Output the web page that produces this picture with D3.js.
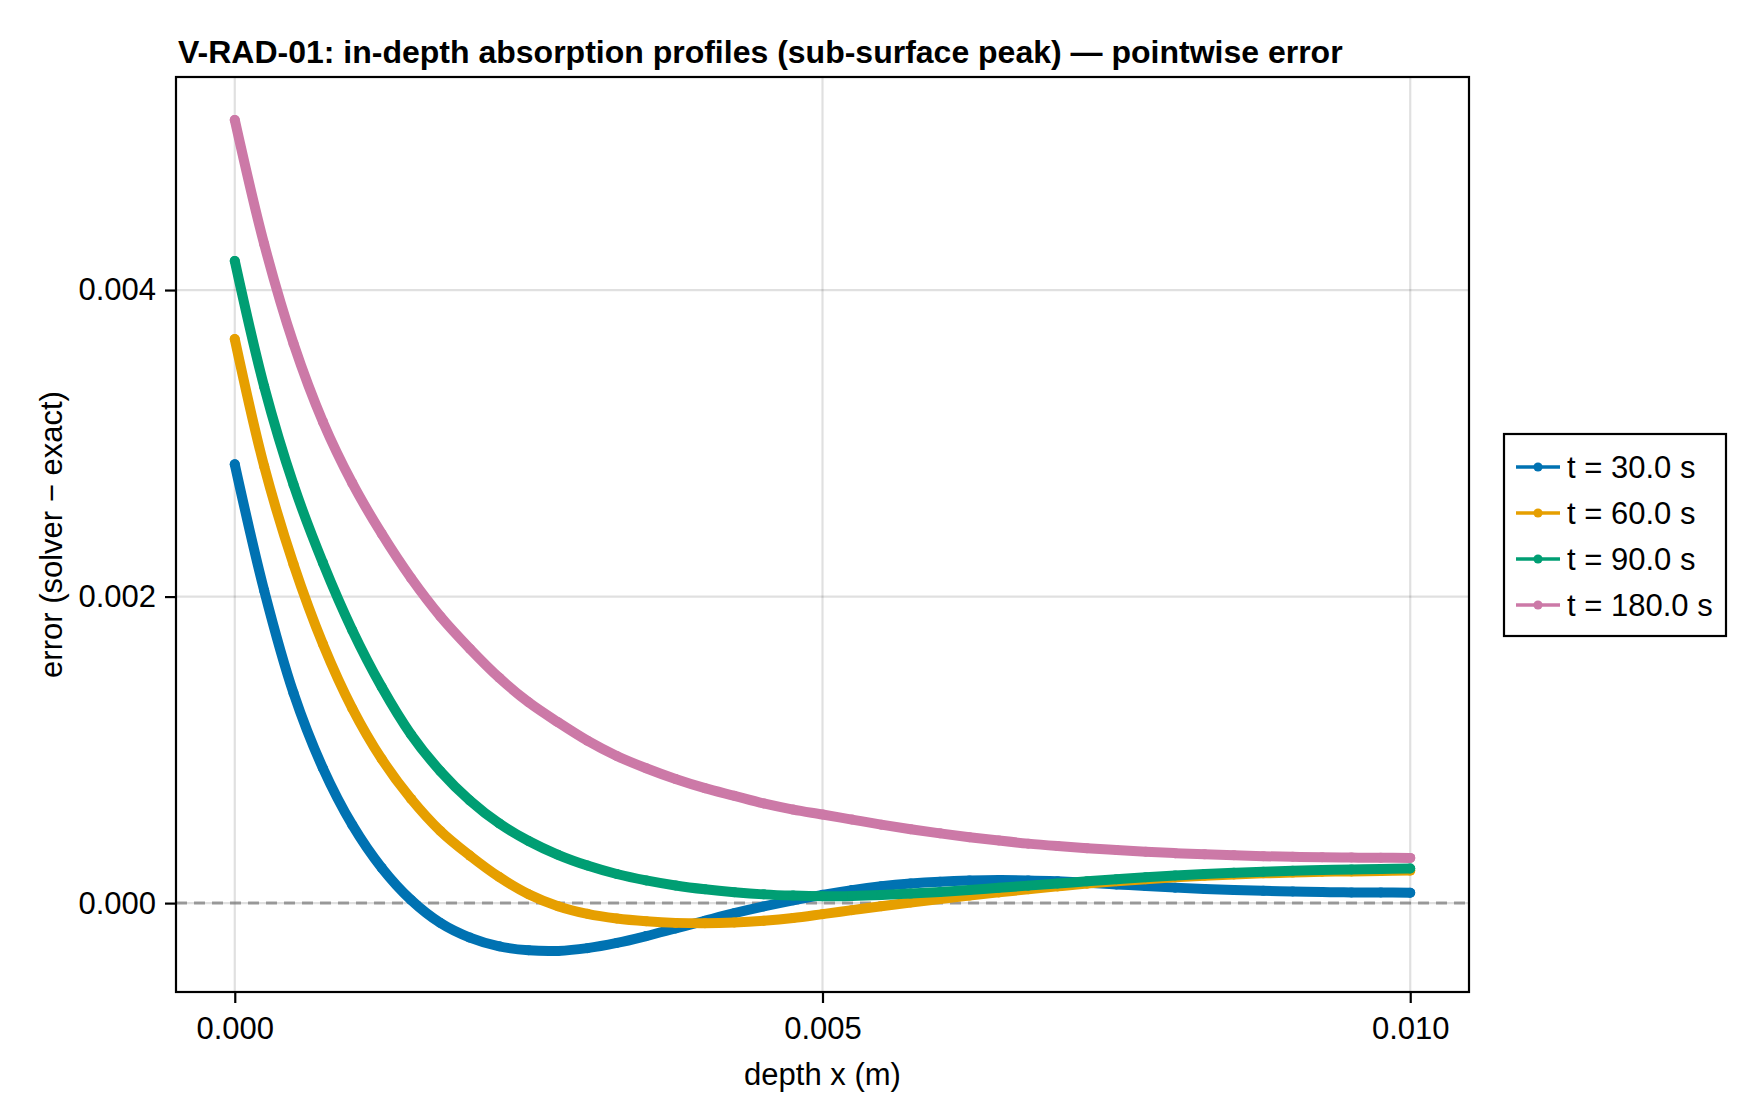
<!DOCTYPE html>
<html>
<head>
<meta charset="utf-8">
<script src="https://cdn.jsdelivr.net/npm/d3@7"></script>
<style>
  body { margin: 0; background: #fff; }
  text { font-family: "Liberation Sans", Arial, sans-serif; fill: #000; }
</style>
</head>
<body>
<div id="chart"></div>
<script>
// depth grid (m) and pointwise error for each time
const depth = [0, 0.00025, 0.0005, 0.00075, 0.001, 0.00125, 0.0015, 0.00175, 0.002, 0.00225,
  0.0025, 0.00275, 0.003, 0.00325, 0.0035, 0.00375, 0.004, 0.00425, 0.0045, 0.00475,
  0.005, 0.00525, 0.0055, 0.00575, 0.006, 0.00625, 0.0065, 0.00675, 0.007, 0.00725,
  0.0075, 0.00775, 0.008, 0.00825, 0.0085, 0.00875, 0.009, 0.00925, 0.0095, 0.00975, 0.01];

const err30 = [0.002863, 0.00204, 0.00137, 0.00088, 0.00051, 0.00023, 0.00002, -0.00013, -0.000225, -0.000282,
  -0.000308, -0.000312, -0.000294, -0.00026, -0.000215, -0.000165, -0.000115, -0.000066, -0.000022, 0.000018,
  0.000054, 0.000085, 0.00011, 0.000128, 0.00014, 0.000147, 0.00015, 0.000148, 0.000142, 0.000133,
  0.000122, 0.000111, 0.000101, 0.000092, 0.000085, 0.00008, 0.000076, 0.000072, 0.00007, 0.000069, 0.000068];

const err60 = [0.00368, 0.00285, 0.00221, 0.00169, 0.00127, 0.00094, 0.00068, 0.00047, 0.00031, 0.00017,
  0.000058, -0.00002, -0.00007, -0.0001, -0.000118, -0.000129, -0.000132, -0.000127, -0.000115, -0.000097,
  -0.000072, -0.000046, -0.00002, 0.000004, 0.000027, 0.000049, 0.00007, 0.00009, 0.000109, 0.000127,
  0.000143, 0.000156, 0.000168, 0.000178, 0.000187, 0.000194, 0.000199, 0.000204, 0.000207, 0.00021, 0.000212];

const err90 = [0.00419, 0.00337, 0.00273, 0.00222, 0.00178, 0.00141, 0.0011, 0.00086, 0.00067, 0.00052,
  0.000405, 0.000315, 0.000245, 0.00019, 0.000148, 0.000115, 0.00009, 0.000071, 0.000057, 0.000049,
  0.000045, 0.000047, 0.000053, 0.000062, 0.000073, 0.000086, 0.0001, 0.000114, 0.000128, 0.000142,
  0.000156, 0.000169, 0.00018, 0.00019, 0.000198, 0.000205, 0.000211, 0.000216, 0.00022, 0.000223, 0.000226];

const err180 = [0.00511, 0.0043, 0.00365, 0.00314, 0.00274, 0.00241, 0.00212, 0.00187, 0.00166, 0.00147,
  0.00131, 0.00118, 0.00106, 0.00096, 0.00088, 0.00081, 0.00075, 0.0007, 0.00065, 0.00061,
  0.000578, 0.000545, 0.000512, 0.000482, 0.000455, 0.00043, 0.000408, 0.000388, 0.000372, 0.000358,
  0.000346, 0.000335, 0.000326, 0.000318, 0.000312, 0.000306, 0.000302, 0.000299, 0.000297, 0.000296, 0.000295];

const labels = ["t = 30.0 s", "t = 60.0 s", "t = 90.0 s", "t = 180.0 s"];
const colors = ["#0072B2", "#E69F00", "#009E73", "#CC79A7"];
const xTicks = [0, 0.005, 0.01];
const yTicks = [0, 0.002, 0.004];

const series = [err30, err60, err90, err180].map((vals, i) => ({
  label: labels[i],
  color: colors[i],
  points: depth.map((d, j) => ({ x: d, y: vals[j] }))
}));

const width = 1760, height = 1120,
      margin = ({ top: 77, right: 291, bottom: 128, left: 176 });

const svg = d3.select("#chart")
  .append("svg")
  .attr("width", width)
  .attr("height", height)
  .attr("viewBox", [0, 0, width, height]);

const x = d3.scaleLinear()
  .domain([-0.0005, 0.0105])
  .range([margin.left, width - margin.right]);

const y = d3.scaleLinear()
  .domain([-0.00058, 0.00539])
  .range([height - margin.bottom, margin.top]);

const fmt = d3.format(".3f");

// grid
svg.append("g")
  .selectAll("line")
  .data(xTicks)
  .join("line")
  .attr("x1", d => x(d)).attr("x2", d => x(d))
  .attr("y1", margin.top).attr("y2", height - margin.bottom)
  .attr("stroke", "rgba(0,0,0,0.12)")
  .attr("stroke-width", 2.2);

svg.append("g")
  .selectAll("line")
  .data(yTicks)
  .join("line")
  .attr("x1", margin.left).attr("x2", width - margin.right)
  .attr("y1", d => y(d)).attr("y2", d => y(d))
  .attr("stroke", "rgba(0,0,0,0.12)")
  .attr("stroke-width", 2.2);

// zero reference
svg.append("line")
  .attr("x1", margin.left).attr("x2", width - margin.right)
  .attr("y1", y(0)).attr("y2", y(0))
  .attr("stroke", "rgba(128,128,128,0.75)")
  .attr("stroke-width", 3)
  .attr("stroke-dasharray", "11 7");

// axes (ticks outside)
const xAxis = svg.append("g")
  .attr("transform", `translate(0,${height - margin.bottom})`)
  .call(d3.axisBottom(x).tickValues(xTicks).tickFormat(fmt).tickSize(11).tickPadding(14));

const yAxis = svg.append("g")
  .attr("transform", `translate(${margin.left},0)`)
  .call(d3.axisLeft(y).tickValues(yTicks).tickFormat(fmt).tickSize(11).tickPadding(9));

[xAxis, yAxis].forEach(a => {
  a.select(".domain").remove();
  a.selectAll(".tick line").attr("stroke", "#000").attr("stroke-width", 2.2);
  a.selectAll(".tick text")
    .attr("font-family", "'Liberation Sans', Arial, sans-serif")
    .attr("font-size", 31)
    .attr("fill", "#000");
});

// series: line then markers
const line = d3.line()
  .x(d => x(d.x))
  .y(d => y(d.y))
  .curve(d3.curveCatmullRom.alpha(0.5));

const g = svg.selectAll(".series")
  .data(series)
  .join("g")
  .attr("class", "series");

g.append("path")
  .attr("d", d => line(d.points))
  .attr("fill", "none")
  .attr("stroke", d => d.color)
  .attr("stroke-width", 10)
  .attr("stroke-linejoin", "round")
  .attr("stroke-linecap", "round");

g.selectAll("circle")
  .data(d => d.points.map(p => ({ ...p, color: d.color })))
  .join("circle")
  .attr("cx", d => x(d.x))
  .attr("cy", d => y(d.y))
  .attr("r", 5)
  .attr("fill", d => d.color);

// frame
svg.append("rect")
  .attr("x", margin.left)
  .attr("y", margin.top)
  .attr("width", width - margin.left - margin.right)
  .attr("height", height - margin.top - margin.bottom)
  .attr("fill", "none")
  .attr("stroke", "#000")
  .attr("stroke-width", 2.2);

// title + axis labels
svg.append("text")
  .attr("x", margin.left + 2)
  .attr("y", 63)
  .attr("font-size", 32)
  .attr("font-weight", "bold")
  .text("V-RAD-01: in-depth absorption profiles (sub-surface peak) \u2014 pointwise error");

svg.append("text")
  .attr("x", (margin.left + width - margin.right) / 2)
  .attr("y", 1085)
  .attr("text-anchor", "middle")
  .attr("font-size", 31)
  .text("depth x (m)");

svg.append("text")
  .attr("transform", `translate(62,${(margin.top + height - margin.bottom) / 2}) rotate(-90)`)
  .attr("text-anchor", "middle")
  .attr("font-size", 31)
  .text("error (solver \u2212 exact)");

// legend
const lg = svg.append("g").attr("transform", "translate(1504,434)");
lg.append("rect")
  .attr("width", 222).attr("height", 202)
  .attr("fill", "#fff")
  .attr("stroke", "#000")
  .attr("stroke-width", 2.2);

const item = lg.selectAll(".item")
  .data(series)
  .join("g")
  .attr("class", "item")
  .attr("transform", (d, i) => `translate(0,${33 + i * 46})`);

item.append("line")
  .attr("x1", 12).attr("x2", 56)
  .attr("stroke", d => d.color)
  .attr("stroke-width", 3.3);

item.append("circle")
  .attr("cx", 34).attr("r", 4.6)
  .attr("fill", d => d.color);

item.append("text")
  .attr("x", 63)
  .attr("y", 11)
  .attr("font-size", 31)
  .text(d => d.label);
</script>
</body>
</html>
